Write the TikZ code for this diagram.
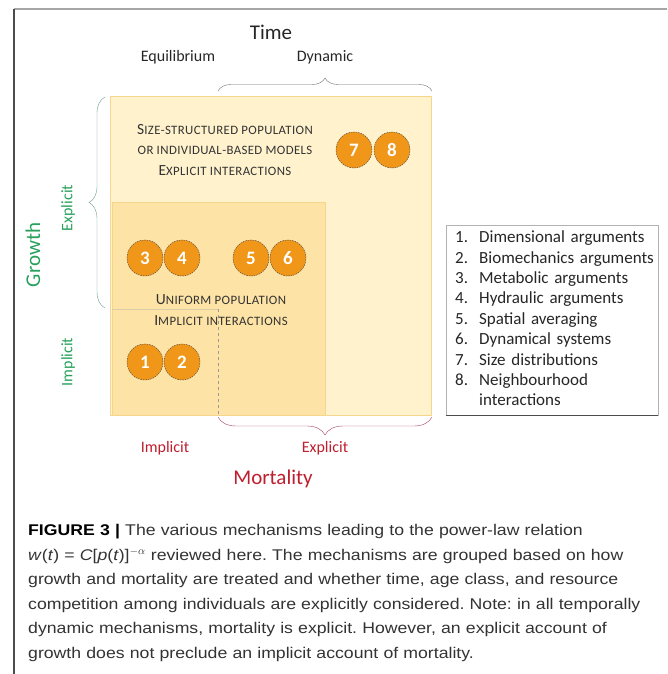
\documentclass[tikz,border=0pt]{standalone}
\usepackage{xcolor}
\usepackage{fontspec}
\setmainfont{Carlito}
\newfontfamily\capfont[FakeStretch=1.14]{Liberation Sans}
\usetikzlibrary{decorations.pathreplacing}

\definecolor{boxlight}{RGB}{255,242,205}
\definecolor{boxmid}{RGB}{253,227,165}
\definecolor{boxedge}{RGB}{245,214,140}
\definecolor{discfill}{RGB}{240,150,25}
\definecolor{growgreen}{RGB}{40,160,92}
\definecolor{mortred}{RGB}{190,30,45}
\definecolor{timegray}{RGB}{110,110,110}
\definecolor{bracegreen}{RGB}{110,155,150}
\definecolor{bracered}{RGB}{165,70,95}

\newcommand{\smc}[1]{{\fontsize{12.8}{14}\selectfont\addfontfeature{LetterSpace=3}#1}}

\begin{document}
\frenchspacing
\begin{tikzpicture}[
    x=1pt, y=-1pt,
    numdisc/.style={circle, fill=discfill, draw=black!75, dash pattern=on 1.5pt off 1pt,
        minimum size=36pt, inner sep=0pt, text=white,
        font=\bfseries\fontsize{19}{19}\selectfont},
    bigtitle/.style={font=\fontsize{21}{24}\selectfont},
    sublabel/.style={font=\fontsize{16}{18}\selectfont},
    boxtext/.style={align=center, font=\fontsize{15.5}{20.5}\selectfont, text=black!80},
    bracetop/.style={decorate, decoration={brace, amplitude=13pt}, draw=timegray, thin},
    braceleft/.style={decorate, decoration={brace, amplitude=16pt}, draw=bracegreen, thin},
    bracebottom/.style={decorate, decoration={brace, amplitude=18pt}, draw=bracered, thin},
    legendbox/.style={draw=gray!60, inner xsep=9pt, inner ysep=0pt, text width=194pt,
        minimum height=190pt, align=left, font=\fontsize{17}{20.4}\selectfont, text=black!85},
    captiontext/.style={align=left, text width=639pt, inner sep=0pt, text=black!80,
        font=\capfont\fontsize{15.5}{24.6}\selectfont}
]
\useasboundingbox (0,0) rectangle (667,674);

% --- frame of the figure panel
\coordinate (corner) at (14,9);
\draw[gray!70, line width=1.2pt] (corner) -- (667,9);
\draw[black!70, line width=1.2pt] (corner) -- (14,674);

% --- nested regions
\fill[boxlight] (110,96) rectangle (431,415);
\draw[boxedge, thin] (110,96) rectangle (431,415);
\fill[boxmid] (112,202) rectangle (325,415);
\draw[boxedge, thin] (112,202) rectangle (325,415);
\coordinate (inA) at (112,309);
\coordinate (inB) at (218,309);
\coordinate (inC) at (218,415);
\draw[boxedge!80!black!60, thin] (inA) -- (inB);
\draw[gray!80, thin, dashed] (inB) -- (inC);

% --- axis labels
\node[bigtitle, text=black!85] (time) at (271,32) {Time};
\node[sublabel, text=black!85] (equil) at (178,57) {Equilibrium};
\node[sublabel, text=black!85] (dyn) at (325,57) {Dynamic};
\node[bigtitle, text=growgreen, rotate=90] (growth) at (33,255) {Growth};
\node[sublabel, text=growgreen, rotate=90] (gexp) at (68,208) {Explicit};
\node[sublabel, text=growgreen, rotate=90] (gimp) at (68,362) {Implicit};
\node[sublabel, text=mortred] (mimp) at (165,448) {Implicit};
\node[sublabel, text=mortred] (mexp) at (325,448) {Explicit};
\node[bigtitle, text=mortred] (mort) at (273,479) {Mortality};

% --- braces
\coordinate (tb1) at (218,91);
\coordinate (tb2) at (432,91);
\draw[bracetop] (tb1) -- (tb2);
\coordinate (lb1) at (105,308);
\coordinate (lb2) at (105,97);
\draw[braceleft] (lb1) -- (lb2);
\coordinate (bb1) at (432,417);
\coordinate (bb2) at (218,417);
\draw[bracebottom] (bb1) -- (bb2);

% --- region texts
\node[boxtext] (sizetxt) at (225,150)
    {S\smc{IZE-STRUCTURED POPULATION}\\
     \smc{OR INDIVIDUAL-BASED MODELS}\\
     E\smc{XPLICIT INTERACTIONS}};
\node[boxtext] (unitxt) at (221,310)
    {U\smc{NIFORM POPULATION}\\
     I\smc{MPLICIT INTERACTIONS}};

% --- numbered mechanisms
\foreach \n/\x/\y in {1/145/362, 2/182/362, 3/145/258, 4/182/258,
                      5/251/258, 6/288/258, 7/354/150, 8/392/150}
    \node[numdisc] (c\n) at (\x,\y) {\n};

% --- legend
\node[legendbox, anchor=north west] (legend) at (446,225)
    {\begin{tabular}{@{}p{24pt}@{}l@{}}
     1. & Dimensional arguments\\
     2. & Biomechanics arguments\\
     3. & Metabolic arguments\\
     4. & Hydraulic arguments\\
     5. & Spatial averaging\\
     6. & Dynamical systems\\
     7. & Size distributions\\
     8. & Neighbourhood\\
        & interactions
     \end{tabular}};
\draw[black!70, line width=0.8pt] (legend.south west) -- (legend.south east);

% --- caption
\node[captiontext, anchor=north west] (caption) at (28,524)
    {{\color{black}\bfseries FIGURE 3 |} The various mechanisms leading to the power-law relation\\
     \textit{w}(\textit{t}) = \textit{C}[\textit{p}(\textit{t})]$^{-\alpha}$ reviewed here. The mechanisms are grouped based on how\\
     growth and mortality are treated and whether time, age class, and resource\\
     competition among individuals are explicitly considered. Note: in all temporally\\
     dynamic mechanisms, mortality is explicit. However, an explicit account of\\
     growth does not preclude an implicit account of mortality.};
\end{tikzpicture}
\end{document}
